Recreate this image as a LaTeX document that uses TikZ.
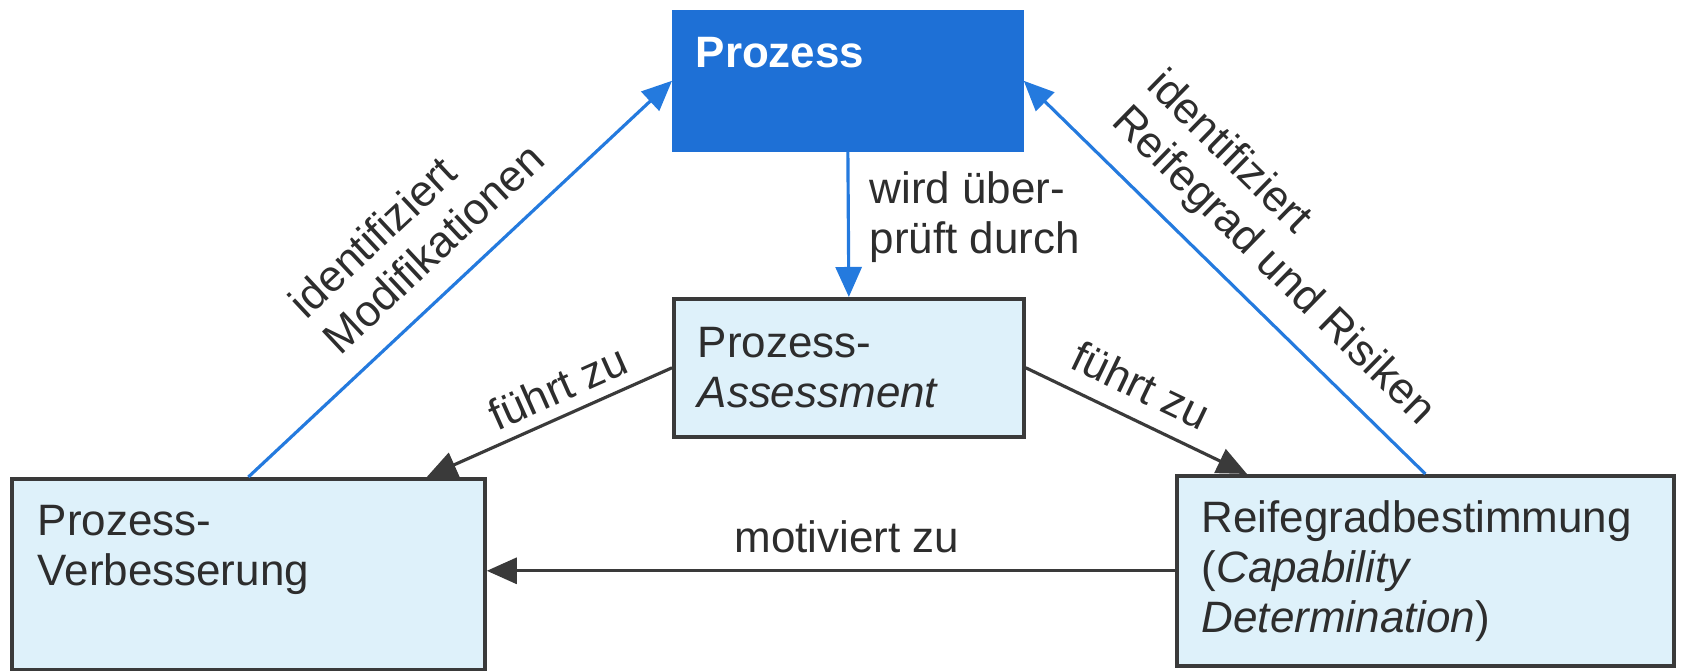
\documentclass[tikz,border=0pt]{standalone}
\usepackage{fontspec}
\setmainfont{Liberation Sans}
\usetikzlibrary{arrows.meta,calc}
\definecolor{pblue}{RGB}{30,112,214}
\definecolor{lblue}{RGB}{36,122,222}
\definecolor{boxfill}{RGB}{222,241,250}
\definecolor{dgray}{RGB}{58,58,58}
\definecolor{tgray}{RGB}{45,45,45}
\begin{document}
\begin{tikzpicture}[x=0.01cm,y=-0.01cm,
  every node/.style={font=\fontsize{12.5}{14.2}\selectfont, text=tgray},
  box/.style={draw=dgray, line width=1pt, fill=boxfill, inner sep=0, anchor=north west},
  txt/.style={inner sep=0, anchor=north west, align=left},
  blk/.style={draw=dgray, line width=0.9pt, -{Triangle[length=0.3cm,width=0.26cm]}},
  blu/.style={draw=lblue, line width=0.9pt, -{Triangle[length=0.3cm,width=0.26cm]}},
  lab/.style={inner sep=0, align=left}]
\useasboundingbox (0,0) rectangle (1682,671);
% boxes
\node[box, draw=pblue, fill=pblue, minimum width=3.48cm, minimum height=1.38cm] (proz) at (672,10) {};
\node[box, minimum width=3.50cm, minimum height=1.38cm] (ass) at (672,297) {};
\node[box, minimum width=4.73cm, minimum height=1.91cm] (verb) at (10,477) {};
\node[box, minimum width=4.97cm, minimum height=1.90cm] (reif) at (1175,474) {};
% box texts
\node[txt, text=white, font=\fontsize{12.5}{14.2}\selectfont\bfseries] (prozt) at (695,37) {Prozess};
\node[txt] (asst) at (697,327) {Prozess-\\\textit{Assessment}};
\node[txt] (verbt) at (37,505) {Prozess-\\Verbesserung};
\node[txt] (reift) at (1201,500) {Reifegradbestimmung\\(\textit{Capability}\\\textit{Determination})};
\node[txt] (wird) at (869,171) {wird über-\\prüft durch};
% connectors
\draw[blu] (verb.north) -- (proz.west);
\draw[blu] (reif.north) -- (proz.east);
\draw[blu] (proz.south) -- (ass.north);
\draw[blk] (ass.west) -- ($(verb.north east)+(-60,0)$);
\draw[blk] (ass.east) -- ($(reif.north west)+(72,0)$);
\draw[blk] (reif.west) -- (reif.west -| verb.east);
% labels
\node[lab, anchor=base] (mot) at (847,553) {motiviert zu};
\node[lab, rotate=24] (f1) at (558,387) {führt zu};
\node[lab, rotate=-25.6] (f2) at (1141,385) {führt zu};
\node[lab, rotate=43.1] (idm) at (416,230) {identifiziert\\Modifikationen};
\node[lab, rotate=-44.4] (idr) at (1290,249) {identifiziert\\Reifegrad und Risiken};
\end{tikzpicture}
\end{document}
